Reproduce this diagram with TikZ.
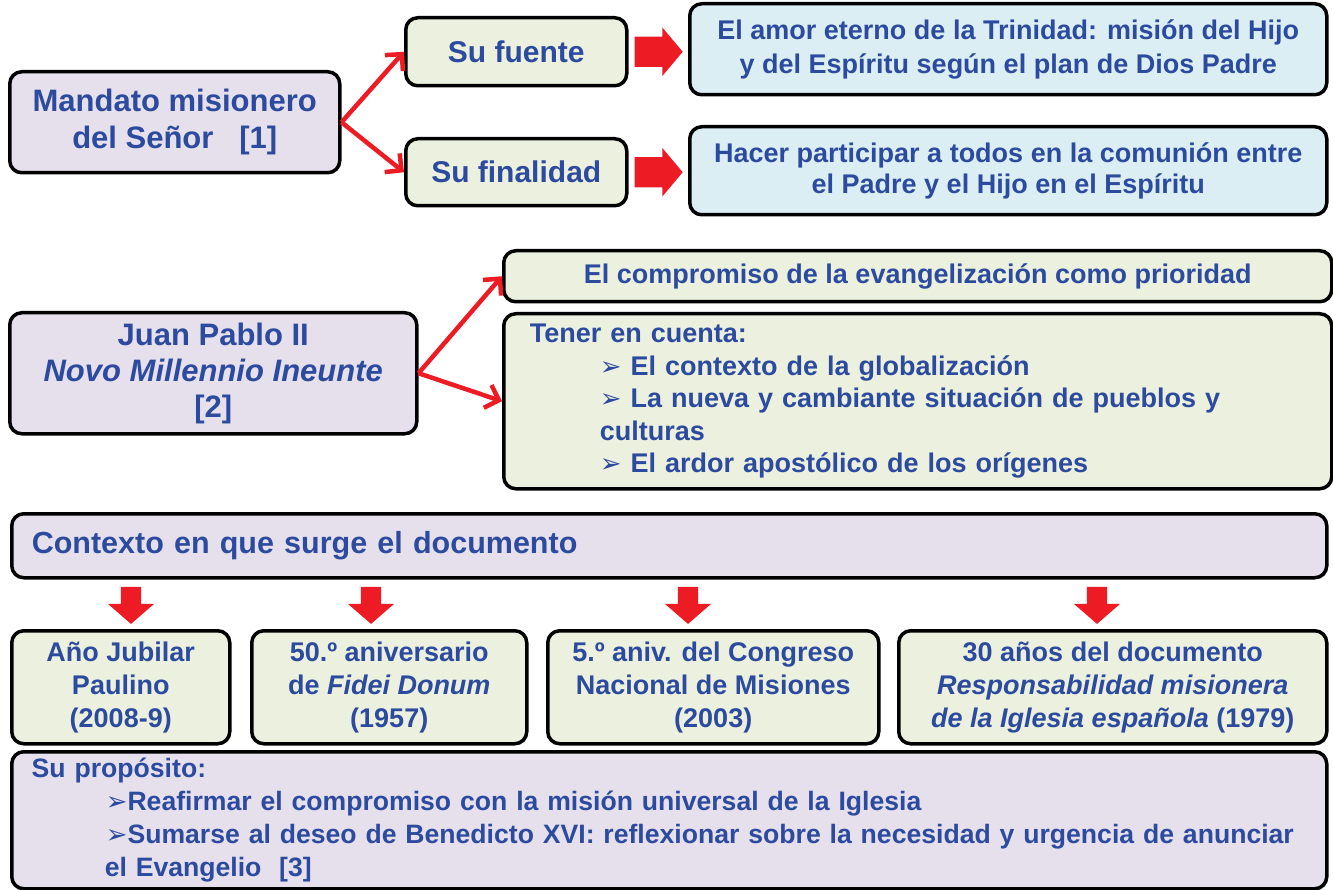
\documentclass[tikz,border=0pt]{standalone}
\usepackage{fontspec}
\setmainfont{Liberation Sans}
\newfontfamily\flechafont{DejaVu Sans}
\usetikzlibrary{arrows.meta,shapes.arrows,positioning}

\definecolor{azultexto}{RGB}{44,74,158}
\definecolor{lila}{RGB}{229,224,236}
\definecolor{verdoso}{RGB}{235,241,222}
\definecolor{celeste}{RGB}{219,238,244}
\definecolor{rojo}{RGB}{237,28,36}

\newcommand{\tam}[2]{\fontsize{#1}{#2}\selectfont\bfseries}
\newcommand{\vineta}{{\flechafont\fontsize{26}{26}\selectfont ➢}}

\begin{document}
\begin{tikzpicture}[x=1pt,y=-1pt,
    caja/.style={rectangle, rounded corners=12pt, draw=black, line width=3.5pt,
      text=azultexto, inner sep=0pt, align=center, anchor=north west},
    flecha/.style={draw=rojo, line width=4.5pt, -{Straight Barb[length=12pt,width=24pt]}},
    gorda/.style={single arrow, fill=rojo, draw=none, inner xsep=0pt, inner ysep=15pt,
      minimum height=48pt, single arrow head extend=9pt,
      single arrow tip angle=100},
    bajada/.style={gorda, inner ysep=10pt, minimum height=37pt,
      single arrow head extend=13pt, single arrow tip angle=98, rotate=-90}]

  \useasboundingbox (0,0) rectangle (1333,890);

  % primera fila
  \node[caja, fill=lila, minimum width=330pt, minimum height=101pt,
    font=\tam{31}{37}] (mandato) at (8,70)
    {Mandato misionero\\del Señor~~~[1]};
  \node[caja, fill=verdoso, minimum width=221pt, minimum height=68pt,
    font=\tam{30}{36}] (fuente) at (404,16) {Su fuente};
  \node[caja, fill=verdoso, minimum width=221pt, minimum height=67pt,
    font=\tam{30}{36}] (finalidad) at (404,137) {Su finalidad};
  \node[caja, fill=celeste, minimum width=637pt, minimum height=91pt,
    font=\tam{27}{34}] (trinidad) at (688,2)
    {El amor eterno de la Trinidad: misión del Hijo\\y del Espíritu según el plan de Dios Padre};
  \node[caja, fill=celeste, minimum width=637pt, minimum height=88pt,
    font=\tam{27}{31}] (comunion) at (688,125)
    {Hacer participar a todos en la comunión entre\\el Padre y el Hijo en el Espíritu};

  \node[gorda, right=6pt of fuente] (flechaA) {};
  \node[gorda, right=6pt of finalidad] (flechaB) {};

  \draw[flecha] (mandato.east) -- (fuente.west);
  \draw[flecha] (mandato.east) -- (finalidad.west);

  % segunda fila
  \node[caja, fill=lila, minimum width=407pt, minimum height=121pt,
    font=\tam{31}{36}] (juanpablo) at (8,311)
    {Juan Pablo II\\\textit{Novo Millennio Ineunte}\\{[2]}};
  \node[caja, fill=verdoso, minimum width=828pt, minimum height=51pt,
    font=\tam{27}{32}] (compromiso) at (502,249)
    {El compromiso de la evangelización como prioridad};
  \node[caja, fill=verdoso, minimum width=828pt, minimum height=175pt,
    text width=776pt, inner xsep=26pt, align=left,
    font=\tam{27}{32.5}] (tener) at (502,312)
    {Tener en cuenta:\\
     \hspace*{70pt}\vineta\ El contexto de la globalización\\
     \hspace*{70pt}\vineta\ La nueva y cambiante situación de pueblos y\\
     \hspace*{70pt}culturas\\
     \hspace*{70pt}\vineta\ El ardor apostólico de los orígenes};

  \draw[flecha] (juanpablo.east) -- (compromiso.west);
  \draw[flecha] (juanpablo.east) -- (tener.west);

  % contexto
  \node[caja, fill=lila, minimum width=1315pt, minimum height=64pt,
    text width=1275pt, inner xsep=20pt, align=left,
    font=\tam{30.5}{36}] (contexto) at (10,512)
    {Contexto en que surge el documento};

  \node[bajada] (bajadaA) at (131,601) {};
  \node[bajada] (bajadaB) at (371,601) {};
  \node[bajada] (bajadaC) at (688,601) {};
  \node[bajada] (bajadaD) at (1097,601) {};

  \node[caja, fill=verdoso, minimum width=218pt, minimum height=113pt,
    font=\tam{27}{33}] (jubilar) at (10,629)
    {Año Jubilar\\Paulino\\(2008-9)};
  \node[caja, fill=verdoso, minimum width=275pt, minimum height=113pt,
    font=\tam{27}{33}] (fidei) at (250,629)
    {50.º aniversario\\de \textit{Fidei Donum}\\(1957)};
  \node[caja, fill=verdoso, minimum width=331pt, minimum height=113pt,
    font=\tam{27}{33}] (congreso) at (546,629)
    {5.º aniv. del Congreso\\Nacional de Misiones\\(2003)};
  \node[caja, fill=verdoso, minimum width=428pt, minimum height=113pt,
    font=\tam{27}{33}] (responsab) at (897,629)
    {30 años del documento\\\textit{Responsabilidad misionera}\\\textit{de la Iglesia española} (1979)};

  % proposito
  \node[caja, fill=lila, minimum width=1315pt, minimum height=137pt,
    text width=1285pt, inner xsep=15pt, align=left,
    font=\tam{26.6}{33}] (proposito) at (10,750)
    {\hspace*{5pt}Su propósito:\\
     \hspace*{79pt}\vineta Reafirmar el compromiso con la misión universal de la Iglesia\\
     \hspace*{79pt}\vineta Sumarse al deseo de Benedicto XVI: reflexionar sobre la necesidad y urgencia de anunciar\\
     \hspace*{78pt}el Evangelio~~[3]};

\end{tikzpicture}
\end{document}
